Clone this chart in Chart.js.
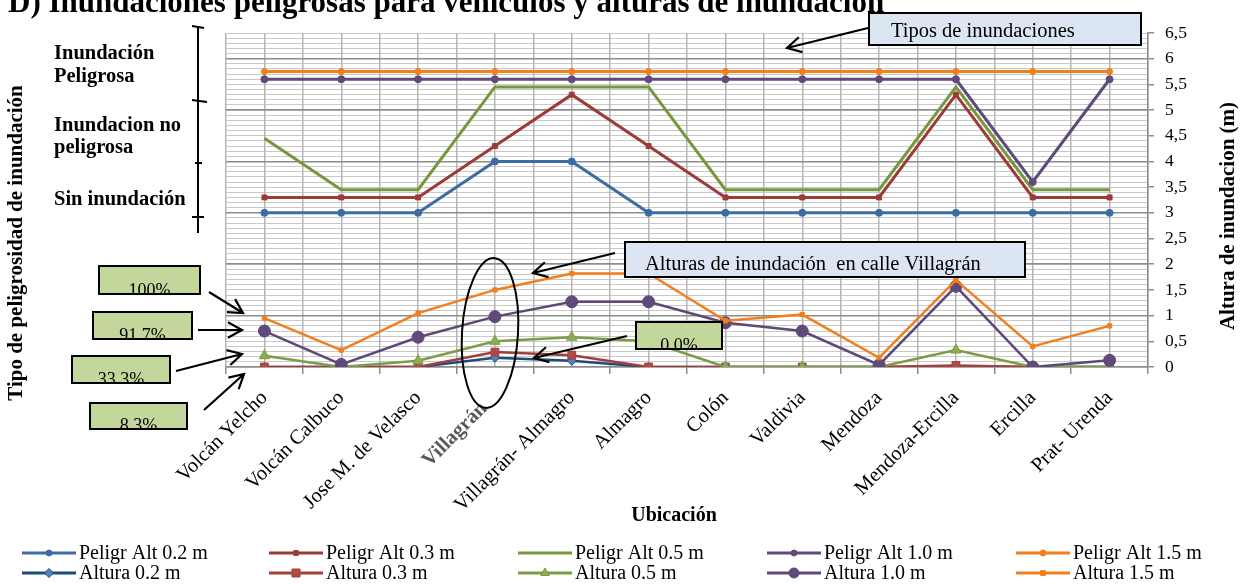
<!DOCTYPE html>
<html>
<head>
<meta charset="utf-8">
<script src="https://cdn.jsdelivr.net/npm/chart.js@4.4.1/dist/chart.umd.min.js"></script>
<style>
  html, body { margin: 0; padding: 0; background: #ffffff; }
  canvas { display: block; }
</style>
</head>
<body>
<canvas id="c" width="1240" height="584"></canvas>
<script>
const SERIF = "'Liberation Serif', 'Times New Roman', serif";

// Street sections along the surveyed route
const categories = ['Volcán Yelcho', 'Volcán Calbuco', 'Jose M. de Velasco', 'Villagrán',
  'Villagrán- Almagro', 'Almagro', 'Colón', 'Valdivia', 'Mendoza', 'Mendoza-Ercilla',
  'Ercilla', 'Prat- Urenda'];
const highlightCategory = 'Villagrán';

// Hazard class per flood depth, placed in the bands of the hazard scale
const peligrAlt02 = [3, 3, 3, 4, 4, 3, 3, 3, 3, 3, 3, 3];
const peligrAlt03 = [3.3, 3.3, 3.3, 4.3, 5.3, 4.3, 3.3, 3.3, 3.3, 5.3, 3.3, 3.3];
const peligrAlt05 = [4.45, 3.45, 3.45, 5.45, 5.45, 5.45, 3.45, 3.45, 3.45, 5.45, 3.45, 3.45];
const peligrAlt10 = [5.6, 5.6, 5.6, 5.6, 5.6, 5.6, 5.6, 5.6, 5.6, 5.6, 3.6, 5.6];
const peligrAlt15 = [5.75, 5.75, 5.75, 5.75, 5.75, 5.75, 5.75, 5.75, 5.75, 5.75, 5.75, 5.75];

// Flood height (m) per section for each rainfall scenario
const altura02 = [0, 0, 0, 0.18, 0.12, 0, 0, 0, 0, 0.01, 0, 0];
const altura03 = [0, 0, 0, 0.29, 0.23, 0, 0, 0, 0, 0.03, 0, 0];
const altura05 = [0.22, 0, 0.12, 0.5, 0.58, 0.5, 0, 0, 0, 0.33, 0, 0];
const altura10 = [0.7, 0.05, 0.58, 0.98, 1.27, 1.27, 0.86, 0.7, 0.04, 1.57, 0, 0.13];
const altura15 = [0.95, 0.33, 1.05, 1.5, 1.82, 1.82, 0.9, 1.02, 0.18, 1.69, 0.4, 0.8];

// Texts
const chartTitle = 'D) Inundaciones peligrosas para vehículos y alturas de inundación';
const leftTitle = 'Tipo de peligrosidad de inundación';
const rightTitle = 'Altura de inundacion (m)';
const xTitle = 'Ubicación';
const hazardLevels = [['Inundación', 'Peligrosa'], ['Inundacion no', 'peligrosa'], ['Sin inundación']];
const percentLabels = ['100%', '91.7%', '33.3%', '8.3%', '0.0%'];
const noteTypes = 'Tipos de inundaciones';
const noteVillagran = 'Alturas de inundación  en calle Villagrán';

function series(label, data, color, style, radius, width, fill) {
  return {
    label, data,
    borderColor: color,
    backgroundColor: fill || color,
    pointBackgroundColor: fill || color,
    pointBorderColor: color,
    pointStyle: style,
    pointRadius: radius,
    pointHoverRadius: radius,
    pointBorderWidth: 1,
    borderWidth: width,
    tension: 0,
    xAxisID: 'x',
    yAxisID: 'y'
  };
}

const datasets = [
  series('Peligr Alt 0.2 m', peligrAlt02, '#3d6ba3', 'circle', 3.5, 3),
  series('Peligr Alt 0.3 m', peligrAlt03, '#9c3b38', 'rect', 3.5, 3),
  series('Peligr Alt 0.5 m', peligrAlt05, '#77973c', 'circle', 0, 3),
  series('Peligr Alt 1.0 m', peligrAlt10, '#5f4a7c', 'circle', 3.5, 3),
  series('Peligr Alt 1.5 m', peligrAlt15, '#f07f1c', 'circle', 3, 3),
  series('Altura 0.2 m', altura02, '#1f4a7c', 'rectRot', 4.5, 2.5, '#4f81bd'),
  series('Altura 0.3 m', altura03, '#a23f3c', 'rect', 5.5, 2.5, '#b24a46'),
  series('Altura 0.5 m', altura05, '#7d9c44', 'triangle', 6, 2.5, '#8cae52'),
  series('Altura 1.0 m', altura10, '#5e4878', 'circle', 6, 2.5, '#604a7b'),
  series('Altura 1.5 m', altura15, '#f07f1c', 'rect', 3, 2.5, '#f07f1c')
];
// later series sit on top
datasets.forEach((d, i) => { d.order = datasets.length - i; });

function drawMarker(ctx, style, x, y, r, fill, stroke) {
  if (!r) return;
  ctx.save();
  ctx.fillStyle = fill; ctx.strokeStyle = stroke; ctx.lineWidth = 1;
  ctx.beginPath();
  if (style === 'circle') {
    ctx.arc(x, y, r, 0, Math.PI * 2);
  } else if (style === 'rect') {
    ctx.rect(x - r * 0.8, y - r * 0.8, r * 1.6, r * 1.6);
  } else if (style === 'rectRot') {
    ctx.moveTo(x, y - r); ctx.lineTo(x + r, y); ctx.lineTo(x, y + r); ctx.lineTo(x - r, y); ctx.closePath();
  } else if (style === 'triangle') {
    ctx.moveTo(x, y - r); ctx.lineTo(x + r * 0.87, y + r * 0.5); ctx.lineTo(x - r * 0.87, y + r * 0.5); ctx.closePath();
  }
  ctx.fill(); ctx.stroke();
  ctx.restore();
}

function arrow(ctx, x1, y1, x2, y2) {
  const a = Math.atan2(y2 - y1, x2 - x1), L = 16, h = 0.5;
  ctx.beginPath();
  ctx.moveTo(x1, y1); ctx.lineTo(x2, y2);
  ctx.moveTo(x2 - L * Math.cos(a - h), y2 - L * Math.sin(a - h));
  ctx.lineTo(x2, y2);
  ctx.lineTo(x2 - L * Math.cos(a + h), y2 - L * Math.sin(a + h));
  ctx.stroke();
}

function box(ctx, x, y, w, h, fill) {
  ctx.fillStyle = fill;
  ctx.fillRect(x, y, w, h);
  ctx.strokeStyle = '#000'; ctx.lineWidth = 2;
  ctx.strokeRect(x, y, w, h);
}

// percentage tag whose text sinks into the lower edge of its box
function percentTag(ctx, text, x, y, w, h) {
  box(ctx, x, y, w, h, '#c3d69b');
  ctx.save();
  ctx.beginPath(); ctx.rect(x, y, w, h); ctx.clip();
  ctx.fillStyle = '#000';
  ctx.font = `18px ${SERIF}`;
  ctx.textAlign = 'center'; ctx.textBaseline = 'alphabetic';
  ctx.fillText(text, x + w / 2, y + h + 2);
  ctx.restore();
  ctx.strokeStyle = '#000'; ctx.lineWidth = 2;
  ctx.strokeRect(x, y, w, h);
}

const overlay = {
  id: 'overlay',
  beforeDraw(chart) {
    const ctx = chart.ctx;
    ctx.save(); ctx.fillStyle = '#fff'; ctx.fillRect(0, 0, chart.width, chart.height); ctx.restore();
  },
  afterDraw(chart) {
    const ctx = chart.ctx;
    ctx.save();
    ctx.fillStyle = '#000';

    // heading
    ctx.font = `bold 31px ${SERIF}`;
    ctx.textAlign = 'left'; ctx.textBaseline = 'alphabetic';
    ctx.fillText(chartTitle, 8, 12);

    // axis titles
    ctx.font = `bold 21px ${SERIF}`;
    ctx.textAlign = 'center'; ctx.textBaseline = 'middle';
    ctx.save(); ctx.translate(17, 243); ctx.rotate(-Math.PI / 2); ctx.fillText(leftTitle, 0, 0); ctx.restore();
    ctx.save(); ctx.translate(1229, 216); ctx.rotate(-Math.PI / 2); ctx.fillText(rightTitle, 0, 0); ctx.restore();
    ctx.font = `bold 20px ${SERIF}`;
    ctx.textBaseline = 'alphabetic';
    ctx.fillText(xTitle, 674, 521);

    // hazard classes and their bracket
    ctx.textAlign = 'left';
    ctx.font = `bold 20.5px ${SERIF}`;
    const levelBase = [[59, 82], [131, 153], [205]];
    hazardLevels.forEach((lines, i) => lines.forEach((t, j) => ctx.fillText(t, 54, levelBase[i][j])));
    ctx.strokeStyle = '#000'; ctx.lineWidth = 2;
    ctx.beginPath();
    ctx.moveTo(198, 27); ctx.lineTo(198, 233);
    ctx.moveTo(192, 26); ctx.lineTo(204, 28);
    ctx.moveTo(192, 100); ctx.lineTo(207, 102);
    ctx.moveTo(195, 163); ctx.lineTo(202, 163);
    ctx.moveTo(192, 217); ctx.lineTo(204, 217);
    ctx.stroke();

    // ellipse around Villagrán
    ctx.beginPath();
    ctx.ellipse(490, 333, 28, 75, 0.06, 0, Math.PI * 2);
    ctx.stroke();

    // arrows
    ctx.lineWidth = 2.2;
    arrow(ctx, 209, 292, 243, 313);
    arrow(ctx, 198, 330, 242, 330);
    arrow(ctx, 176, 371, 242, 354);
    arrow(ctx, 204, 410, 244, 374);
    arrow(ctx, 627, 336, 534, 358);
    arrow(ctx, 615, 253, 533, 273);
    arrow(ctx, 868, 28, 787, 48);

    // notes
    percentTag(ctx, percentLabels[0], 99, 266, 101, 28);
    percentTag(ctx, percentLabels[1], 93, 312, 99, 27);
    percentTag(ctx, percentLabels[2], 72, 356, 98, 27);
    percentTag(ctx, percentLabels[3], 90, 403, 97, 26);
    percentTag(ctx, percentLabels[4], 636, 322, 86, 27);

    box(ctx, 869, 13, 272, 32, '#dce6f2');
    ctx.fillStyle = '#000';
    ctx.font = `20.5px ${SERIF}`;
    ctx.textAlign = 'left'; ctx.textBaseline = 'alphabetic';
    ctx.fillText(noteTypes, 891, 37);

    box(ctx, 625, 242, 400, 35, '#dce6f2');
    ctx.fillStyle = '#000';
    ctx.fillText(noteVillagran, 645, 270);

    // legend: hazard series on the first row, heights on the second
    const colX = [22, 269, 518, 767, 1016];
    const rowY = [553, 573];
    ctx.font = `20px ${SERIF}`;
    ctx.textBaseline = 'middle';
    chart.data.datasets.forEach((ds, i) => {
      const x = colX[i % 5], y = rowY[Math.floor(i / 5)];
      ctx.strokeStyle = ds.borderColor; ctx.lineWidth = 3;
      ctx.beginPath(); ctx.moveTo(x, y); ctx.lineTo(x + 54, y); ctx.stroke();
      drawMarker(ctx, ds.pointStyle, x + 27, y, Math.min(ds.pointRadius, i < 5 ? 3 : 5), ds.pointBackgroundColor, ds.pointBorderColor);
      ctx.fillStyle = '#000';
      ctx.fillText(ds.label, x + 57, y + 1);
    });
    ctx.restore();
  }
};

Chart.defaults.font.family = SERIF;

new Chart(document.getElementById('c'), {
  type: 'line',
  data: { labels: categories, datasets },
  options: {
    responsive: false,
    maintainAspectRatio: false,
    animation: false,
    layout: { padding: { left: 226, top: 33, right: 0, bottom: 0 } },
    plugins: { legend: { display: false }, tooltip: { enabled: false } },
    scales: {
      yMinor: {
        type: 'linear', position: 'right', min: 0, max: 6.5,
        ticks: { display: false, stepSize: 0.1 },
        grid: { color: '#c9c9c9', lineWidth: 1, drawTicks: false },
        border: { display: false },
        afterFit(s) { s.width = 0; }
      },
      xMid: {
        type: 'category', position: 'bottom', offset: true,
        ticks: { display: false },
        grid: { offset: false, color: '#b5b5b5', lineWidth: 1.5, drawTicks: false },
        border: { display: false },
        afterFit(s) { s.height = 0; }
      },
      x: {
        type: 'category', position: 'bottom', offset: true,
        grid: { offset: true, color: '#b5b5b5', lineWidth: 1.5, tickLength: 7, tickColor: '#8c8c8c' },
        border: { display: false },
        ticks: {
          autoSkip: false, minRotation: 45, maxRotation: 45, padding: 12,
          // the highlighted street sits slightly further out than the others
          callback: (v, i) => categories[i] === highlightCategory ? categories[i] + '   ' : categories[i],
          color: c => categories[c.index] === highlightCategory ? '#595959' : '#000',
          font: c => categories[c.index] === highlightCategory
            ? { family: SERIF, size: 20.5, weight: 'bold' }
            : { family: SERIF, size: 20.5 }
        },
        afterFit(s) { s.height = 217; }
      },
      y: {
        type: 'linear', position: 'right', min: 0, max: 6.5,
        ticks: {
          stepSize: 0.5, padding: 11, color: '#000',
          font: { family: SERIF, size: 17.5 },
          callback: v => String(v).replace('.', ',')
        },
        grid: {
          color: c => Math.abs(c.tick.value - Math.round(c.tick.value)) < 1e-6 ? '#8c8c8c' : 'rgba(0,0,0,0)',
          lineWidth: 1.5, tickLength: 6, tickColor: '#8c8c8c'
        },
        border: { display: true, color: '#8c8c8c', width: 1.5 },
        afterFit(s) { s.width = 92; }
      }
    }
  },
  plugins: [overlay]
});
</script>
</body>
</html>
